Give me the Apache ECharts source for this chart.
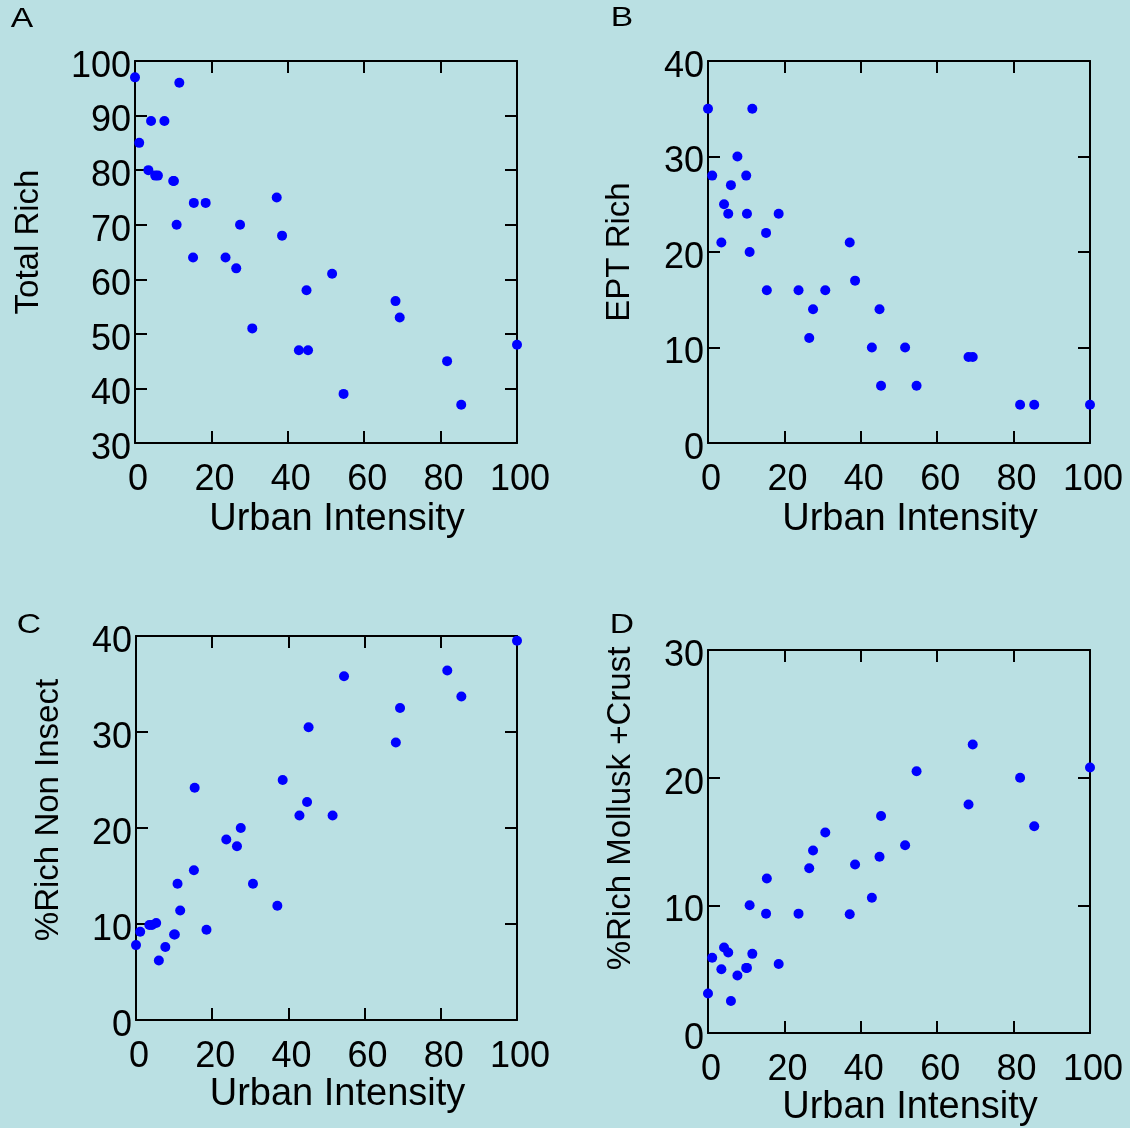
<!DOCTYPE html>
<html>
<head>
<meta charset="utf-8">
<script src="https://cdn.jsdelivr.net/npm/echarts@6/dist/echarts.min.js"></script>
<style>
html,body{margin:0;padding:0;background:#bae0e3;}
#chart{width:1130px;height:1128px;}
</style>
</head>
<body>
<div id="chart"></div>
<script>
// Urban intensity for each site (x values)
const urban = [0, 1.1, 3.5, 4.2, 5.3, 6.0, 7.7, 10.0, 10.2, 10.9, 11.6, 15.2, 15.4, 18.5, 23.7, 26.5, 27.5, 30.7, 37.1, 38.5, 42.9, 44.9, 45.3, 51.6, 54.6, 68.2, 69.3, 81.7, 85.4, 100];
// Panel A: Total Rich
const totalRich = [97, 85, 80, 89, 79, 79, 89, 78, 78, 70, 96, 64, 74, 74, 64, 62, 70, 51, 75, 68, 47, 58, 47, 61, 39, 56, 53, 45, 37, 48];
// Panel B: EPT Rich
const eptRich = [35, 28, 21, 25, 24, 27, 30, 28, 24, 20, 35, 22, 16, 24, 16, 11, 14, 16, 21, 17, 10, 14, 6, 10, 6, 9, 9, 4, 4, 4];
// Panel C: %Rich Non Insect
const pctNonInsect = [7.8, 9.2, 9.9, 9.9, 10.1, 6.2, 7.6, 8.9, 8.9, 14.2, 11.4, 15.6, 24.2, 9.4, 18.8, 18.1, 20.0, 14.2, 11.9, 25.0, 21.3, 22.7, 30.5, 21.3, 35.8, 28.9, 32.5, 36.4, 33.7, 39.5];
// Panel D: %Rich Mollusk +Crust
const pctMolluskCrust = [3.1, 5.9, 5.0, 6.7, 6.3, 2.5, 4.5, 5.1, 5.1, 10.0, 6.2, 9.35, 12.1, 5.4, 9.35, 12.9, 14.3, 15.7, 9.3, 13.2, 10.6, 13.8, 17.0, 14.7, 20.5, 17.9, 22.6, 20.0, 16.2, 20.8];

const xTitle = 'Urban Intensity';
const panelLetters = ['A', 'B', 'C', 'D'];
const yTitles = ['Total Rich', 'EPT Rich', '%Rich Non Insect', '%Rich Mollusk +Crust'];
const yRanges = [[30, 100, 10], [0, 40, 10], [0, 40, 10], [0, 30, 10]];
const xRange = [0, 100, 20];
const yValues = [totalRich, eptRich, pctNonInsect, pctMolluskCrust];

const FONT = '"Liberation Sans", Arial, sans-serif';
const grids = [
  {left: 135, top: 61, width: 382, height: 382},
  {left: 708, top: 61, width: 382, height: 382},
  {left: 136, top: 636, width: 381, height: 384},
  {left: 708, top: 650, width: 382, height: 383}
];
const xNameGap = [58, 58, 54, 56];
const yNameGap = [90, 72, 71, 71];
const yNameShift = [20, 0, 36, 66];
const letterPos = [[22, 19], [622, 18], [29, 625], [622, 625]];

const lineStyle = {color: '#000', width: 2};
const xAxes = [], yAxes = [], series = [];
grids.forEach((g, i) => {
  const [ymin, ymax, yint] = yRanges[i];
  xAxes.push({
    type: 'value', gridIndex: i, position: 'bottom', min: xRange[0], max: xRange[1], interval: xRange[2],
    name: xTitle, nameLocation: 'middle', nameGap: xNameGap[i],
    nameTextStyle: {fontFamily: FONT, fontSize: 38, color: '#000', padding: [0, 0, 0, 22]},
    axisLine: {show: true, onZero: false, lineStyle}, axisTick: {show: true, inside: true, length: 12, lineStyle},
    axisLabel: {fontFamily: FONT, fontSize: 36, color: '#000', margin: 19, padding: [0, 0, 0, 6]},
    splitLine: {show: false}
  });
  xAxes.push({
    type: 'value', gridIndex: i, position: 'top', min: xRange[0], max: xRange[1], interval: xRange[2],
    axisLine: {show: true, onZero: false, lineStyle}, axisTick: {show: true, inside: true, length: 12, lineStyle},
    axisLabel: {show: false}, splitLine: {show: false}
  });
  yAxes.push({
    type: 'value', gridIndex: i, position: 'left', min: ymin, max: ymax, interval: yint,
    name: yTitles[i], nameLocation: 'middle', nameGap: yNameGap[i], nameRotate: 90,
    nameTextStyle: {fontFamily: FONT, fontSize: 33, color: '#000', padding: [0, 0, 0, yNameShift[i]]},
    axisLine: {show: true, onZero: false, lineStyle}, axisTick: {show: true, inside: true, length: 12, lineStyle},
    axisLabel: {fontFamily: FONT, fontSize: 36, color: '#000', margin: 4, verticalAlign: 'top', lineHeight: 12},
    splitLine: {show: false}
  });
  yAxes.push({
    type: 'value', gridIndex: i, position: 'right', min: ymin, max: ymax, interval: yint,
    axisLine: {show: true, onZero: false, lineStyle}, axisTick: {show: true, inside: true, length: 12, lineStyle},
    axisLabel: {show: false}, splitLine: {show: false}
  });
  series.push({
    type: 'scatter', xAxisIndex: 2 * i, yAxisIndex: 2 * i,
    data: urban.map((u, k) => [u, yValues[i][k]]),
    symbol: 'circle', symbolSize: 10,
    itemStyle: {color: '#0000ff', opacity: 1},
    silent: true, clip: false
  });
});

const chart = echarts.init(document.getElementById('chart'), null, {renderer: 'canvas'});
chart.setOption({
  backgroundColor: '#bae0e3',
  animation: false,
  grid: grids.map(g => Object.assign({containLabel: false, outerBoundsMode: 'none'}, g)),
  xAxis: xAxes,
  yAxis: yAxes,
  series: series,
  graphic: panelLetters.map((t, i) => ({
    type: 'text', x: letterPos[i][0], y: letterPos[i][1], scaleX: 1.2,
    style: {text: t, fontFamily: FONT, fontSize: 28, fill: '#000', textAlign: 'center', textVerticalAlign: 'middle'}
  }))
});
</script>
</body>
</html>
